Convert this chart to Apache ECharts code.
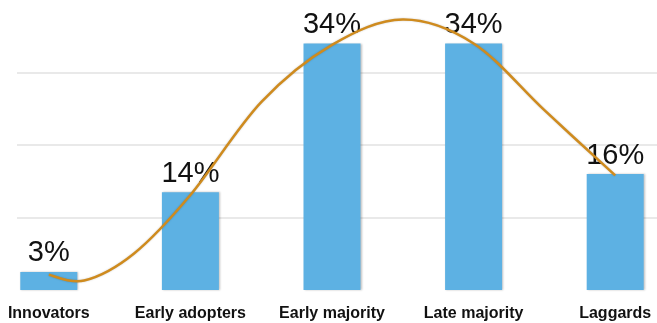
<!DOCTYPE html>
<html>
<head>
<meta charset="utf-8">
<script src="https://cdn.jsdelivr.net/npm/echarts@6/dist/echarts.min.js"></script>
<style>
  html, body { margin: 0; padding: 0; background: #fff; }
  #chart { width: 657px; height: 323px; }
</style>
</head>
<body>
<div id="chart"></div>
<script>
// adopter groups (Rogers diffusion curve)
var categories = ['Innovators', 'Early adopters', 'Early majority', 'Late majority', 'Laggards'];
var shares = [2.5, 13.5, 34, 34, 16];

// bell curve drawn over the bars, x in category units, y in %
var curveX = [0, 0.25, 0.6, 1.0, 1.5, 2.0, 2.5, 3.0, 3.5, 4.0];
var curveY = [2.1, 1.3, 5.0, 13.1, 25.9, 33.8, 37.3, 34.0, 24.8, 15.8];

var yTicks = [0, 10, 20, 30, 40];

var curveData = curveX.map(function (x, i) { return [x, curveY[i]]; });

// one smooth path through all curve points (catmull-rom -> bezier)
function renderCurve(params, api) {
    if (params.dataIndex !== 0) return null;
    var pts = curveData.map(function (d) { return api.coord(d); });
    var n = pts.length;
    var path = 'M' + pts[0][0] + ' ' + pts[0][1];
    for (var i = 0; i < n - 1; i++) {
        var p0 = pts[Math.max(i - 1, 0)];
        var p1 = pts[i];
        var p2 = pts[i + 1];
        var p3 = pts[Math.min(i + 2, n - 1)];
        var c1x = p1[0] + (p2[0] - p0[0]) / 6;
        var c1y = p1[1] + (p2[1] - p0[1]) / 6;
        var c2x = p2[0] - (p3[0] - p1[0]) / 6;
        var c2y = p2[1] - (p3[1] - p1[1]) / 6;
        path += ' C' + c1x + ' ' + c1y + ' ' + c2x + ' ' + c2y + ' ' + p2[0] + ' ' + p2[1];
    }
    return {
        type: 'path',
        shape: { pathData: path },
        style: {
            fill: 'none',
            stroke: '#cf8b1e',
            lineWidth: 2.5,
            shadowColor: 'rgba(0,0,0,0.2)',
            shadowBlur: 2
        }
    };
}

var chart = echarts.init(document.getElementById('chart'));
chart.setOption({
    animation: false,
    grid: [
        { left: -22, right: -29, top: 0, bottom: 33, outerBoundsMode: 'none' },
        { left: 17, right: 0, top: 0, bottom: 33, outerBoundsMode: 'none' }
    ],
    xAxis: [
        {
            type: 'category',
            gridIndex: 0,
            data: categories,
            axisLine: { show: false },
            axisTick: { show: false },
            axisLabel: {
                interval: 0,
                margin: 16,
                color: '#111',
                fontSize: 16,
                fontWeight: 'bold',
                fontFamily: 'Liberation Sans, Arial, sans-serif'
            }
        },
        { type: 'value', gridIndex: 0, min: -0.5, max: 4.5, show: false },
        { type: 'value', gridIndex: 1, min: 0, max: 1, show: false }
    ],
    yAxis: [
        {
            type: 'value', gridIndex: 0, min: yTicks[0], max: yTicks[yTicks.length - 1], interval: 10,
            axisLine: { show: false }, axisTick: { show: false }, axisLabel: { show: false },
            splitLine: { show: false }
        },
        {
            type: 'value', gridIndex: 1, min: yTicks[0], max: yTicks[yTicks.length - 1], interval: 10,
            axisLine: { show: false }, axisTick: { show: false }, axisLabel: { show: false },
            splitLine: { show: true, showMinLine: false, showMaxLine: false, lineStyle: { color: '#e2e2e2', width: 1.5 } }
        }
    ],
    series: [
        {
            type: 'bar',
            xAxisIndex: 0,
            yAxisIndex: 0,
            data: shares,
            barWidth: 57,
            itemStyle: {
                color: '#5db1e3',
                shadowColor: 'rgba(0,0,0,0.25)',
                shadowBlur: 2,
                shadowOffsetX: 1
            },
            label: {
                show: true,
                position: 'top',
                distance: 4,
                color: '#111',
                fontSize: 29,
                fontFamily: 'Liberation Sans, Arial, sans-serif',
                formatter: function (p) { return Math.round(p.value) + '%'; }
            },
            z: 2
        },
        {
            type: 'custom',
            xAxisIndex: 1,
            yAxisIndex: 0,
            data: curveData,
            encode: { x: 0, y: 1 },
            renderItem: renderCurve,
            silent: true,
            clip: false,
            z: 3
        }
    ]
});
</script>
</body>
</html>
